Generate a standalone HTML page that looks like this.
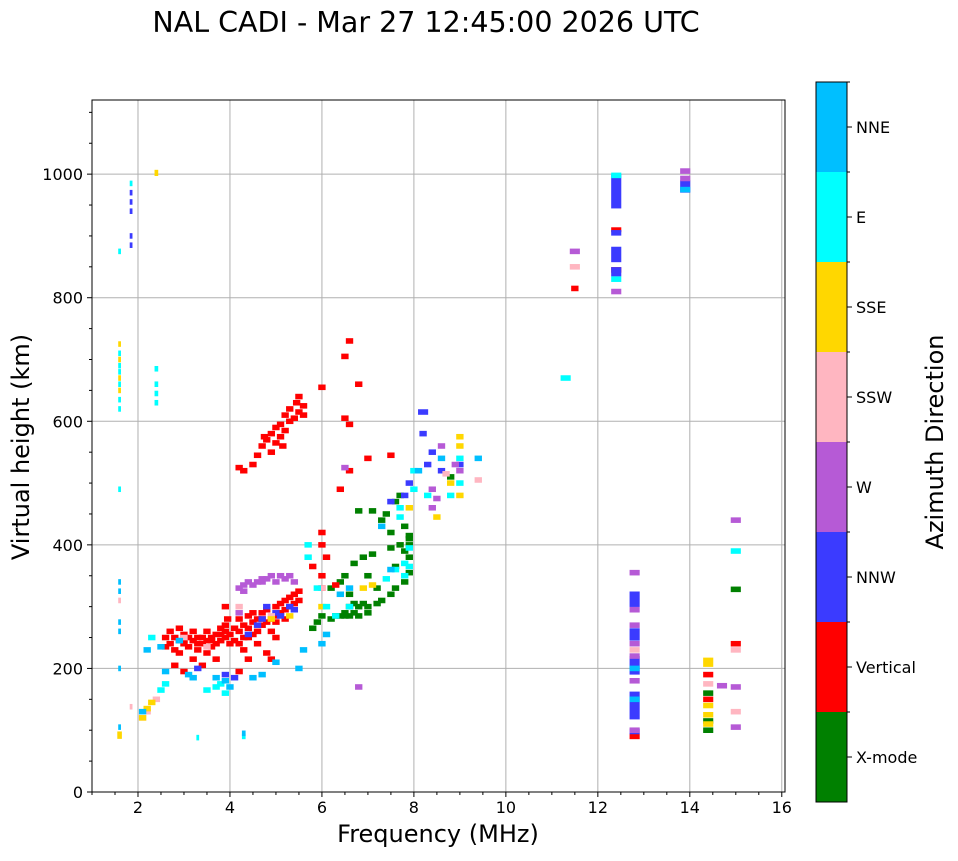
<!DOCTYPE html>
<html><head><meta charset="utf-8"><style>
body{margin:0;background:#fff;font-family:"DejaVu Sans","Liberation Sans",sans-serif}
svg text{font-family:"DejaVu Sans","Liberation Sans",sans-serif;fill:#000}
</style></head><body>
<svg width="958" height="857" xmlns="http://www.w3.org/2000/svg">
<text x="426" y="32" font-size="28.5" text-anchor="middle">NAL CADI - Mar 27 12:45:00 2026 UTC</text>
<g id="plot"></g>
<g id="cbar"></g>
<text x="0" y="0" font-size="24" text-anchor="middle" transform="translate(29,447) rotate(-90)">Virtual height (km)</text>
<text x="438" y="842" font-size="24" text-anchor="middle">Frequency (MHz)</text>
<text x="0" y="0" font-size="24" text-anchor="middle" transform="translate(943,442) rotate(-90)">Azimuth Direction</text>
</svg>
<script>
const xTicks=[2,4,6,8,10,12,14,16];
const yTicks=[0,200,400,600,800,1000];
const dirNames=["X-mode","Vertical","NNW","W","SSW","SSE","E","NNE"];
const dirColors=["#008000","#ff0000","#3b3bff","#b65ad6","#ffb6c1","#ffd700","#00ffff","#00bfff"];
const xmode=[[5.8,265],[5.9,275],[6.0,285],[6.2,280],[6.3,285],[6.4,285],[6.5,290],[6.6,300],[6.7,305],[6.8,300],[6.9,305],[7.0,300],[7.2,305],[7.3,310],[7.5,320],[7.6,330],[7.8,340],[7.9,355],[7.9,380],[7.9,400],[7.9,415],[7.7,400],[7.8,430],[7.5,420],[7.3,440],[7.4,450],[7.6,470],[7.7,480],[7.5,395],[7.1,385],[6.9,380],[6.7,370],[6.5,350],[6.2,330],[6.4,340],[6.6,320],[7.0,350],[7.2,330],[6.8,455],[7.1,455],[8.8,510],[6.5,285],[6.6,285],[6.7,290],[6.8,285],[7.0,290],[7.6,365],[7.8,390],[7.9,410],[14.4,100,0.22],[14.4,115,0.22],[14.4,160,0.22],[15,328,0.22]];
const vertical=[[2.6,250],[2.7,240],[2.7,260],[2.8,230],[2.8,250],[2.9,245],[2.9,265],[3.0,240],[3.0,255],[3.1,235],[3.1,250],[3.2,245],[3.2,260],[3.3,240],[3.3,230],[3.4,250],[3.4,240],[3.5,245],[3.5,260],[3.6,235],[3.6,250],[3.7,240],[3.7,255],[3.8,245],[3.8,265],[3.9,250],[3.9,270],[3.95,280],[3.9,260],[4.0,240],[4.0,255],[2.6,235],[2.9,225],[3.2,215],[3.5,225],[3.0,195],[2.8,205],[3.4,205],[3.7,215],[3.9,300],[4.1,245],[4.2,260],[4.2,280],[4.3,250],[4.3,270],[4.4,265],[4.4,285],[4.5,255],[4.5,275],[4.6,280],[4.6,260],[4.7,270],[4.7,290],[4.8,275],[4.8,295],[4.9,280],[4.9,260],[5.0,285],[5.0,300],[5.1,290],[5.1,305],[5.2,295],[5.2,310],[5.3,300],[5.3,315],[5.4,305],[5.4,320],[5.5,310],[5.5,325],[4.3,230],[4.6,240],[4.8,225],[5.0,250],[4.2,240],[4.4,215],[4.2,195],[4.9,215],[5.8,365],[6.0,420],[6.0,400],[6.1,380],[6.0,350],[6.0,330],[6.3,335],[4.2,525],[4.3,520],[4.5,530],[4.6,545],[4.7,560],[4.75,575],[4.8,570],[4.9,550],[4.9,580],[5.0,565],[5.0,590],[5.1,575],[5.1,595],[5.2,585],[5.2,610],[5.3,600],[5.3,620],[5.4,605],[5.45,630],[5.5,615],[5.6,625],[5.6,610],[5.5,640],[5.15,560],[6.0,655],[6.5,705],[6.6,730],[6.8,660],[6.5,605],[6.6,595],[6.6,520],[6.4,490],[7.0,540],[7.5,545],[3.0,245],[3.3,250],[3.6,245],[3.8,255],[4.1,265],[4.5,290],[4.7,280],[5.0,275],[5.2,280],[4.4,250],[11.5,815],[12.4,910,0.22,8],[12.4,845,0.22],[12.8,90,0.22],[15.0,240,0.22],[14.4,190,0.22],[14.4,150,0.22]];
const nnw=[[1.85,900,0.06],[1.85,940,0.06],[1.85,955,0.06],[1.85,970,0.06],[1.85,885,0.06],[3.3,200],[3.9,190],[4.1,185],[4.4,255],[4.6,270],[4.7,280],[5.0,290],[5.1,285],[5.3,300],[5.4,295],[4.8,300],[7.5,470],[7.8,480],[7.9,500],[8.2,615,0.22],[8.2,580],[8.3,530],[8.6,520],[8.4,550],[9.0,530],[12.4,972,0.22,55],[12.4,870,0.22,25],[12.4,842,0.22,15],[12.4,905,0.22],[12.8,312,0.22,25],[12.8,255,0.22,20],[12.8,205,0.22,30],[12.8,140,0.22,45],[12.8,98,0.22],[13.9,980,0.22,20]];
const west=[[4.2,330],[4.3,335],[4.4,340],[4.5,335],[4.6,340],[4.7,345],[4.8,345],[4.9,350],[5.0,340],[5.1,350],[5.2,345],[5.3,350],[5.4,340],[4.3,325],[4.7,340],[6.8,170],[6.5,525],[8.4,460],[8.4,490],[8.5,475],[8.6,560],[8.9,530],[9.0,520],[12.8,355,0.22],[12.8,295,0.22],[12.8,270,0.22],[12.8,240,0.22],[12.8,220,0.22],[12.8,180,0.22],[12.8,100,0.22],[12.4,810,0.22],[11.5,875,0.22],[13.9,1005,0.22],[13.9,993,0.22],[15,440,0.22],[15,170,0.22],[15,105,0.22],[14.7,172,0.22],[4.2,290]];
const ssw=[[1.6,310,0.06],[1.85,138,0.06],[2.1,120],[2.2,130],[2.4,150],[3.0,250],[3.5,235],[4.2,300],[4.9,285],[6.0,330],[11.5,850,0.22],[15,230,0.22],[15,130,0.22],[14.4,175,0.22],[9.4,505],[8.7,515],[12.8,230,0.22]];
const sse=[[1.6,92,0.1,12],[1.6,650,0.06],[1.6,670,0.06],[1.6,700,0.06],[1.6,725,0.06],[2.4,1002,0.08,10],[2.1,120],[2.2,135],[2.3,145],[4.9,280],[5.3,285],[6.9,330],[7.1,335],[8.8,500],[9.0,575],[9.0,560],[9.0,480],[8.5,445],[14.4,210,0.22,15],[14.4,140,0.22],[14.4,125,0.22],[14.4,110,0.22],[7.9,460],[6.0,300]];
const east=[[1.6,620,0.06],[1.6,635,0.06],[1.6,660,0.06],[1.6,680,0.06],[1.6,690,0.06],[1.6,710,0.06],[1.6,875,0.06],[1.6,490,0.06],[1.85,985,0.06],[2.4,630,0.08],[2.4,645,0.08],[2.4,660,0.08],[2.4,685,0.08],[2.3,250],[2.5,165],[2.6,175],[3.5,165],[3.7,170],[3.9,160],[3.8,175],[5.7,400],[5.7,380],[5.9,330],[6.1,300],[6.3,285],[7.4,345],[7.6,360],[7.8,370],[7.9,395],[7.7,445],[7.7,460],[8.0,490],[8.0,520],[8.3,480],[8.8,480],[9.0,500],[9.0,540],[11.3,670,0.22],[15,390,0.22],[12.4,830,0.22],[12.4,998,0.22],[3.3,88,0.06],[4.3,90,0.08],[6.6,300],[7.9,365],[7.8,350]];
const nne=[[1.6,340,0.06],[1.6,325,0.06],[1.6,275,0.06],[1.6,260,0.06],[1.6,200,0.06],[1.6,105,0.06],[2.2,230],[2.5,235],[2.9,245],[3.2,185],[3.1,190],[3.9,180],[4.0,170],[4.5,185],[4.7,190],[5.0,210],[5.5,200],[5.6,230],[6.1,255],[6.0,240],[6.4,320],[6.6,330],[7.5,360],[7.3,430],[8.1,520],[8.6,540],[9.4,540],[12.8,200,0.22],[12.8,150,0.22],[13.9,975,0.22],[4.3,95,0.08],[3.7,185],[2.6,195],[2.1,130]];
const series=[xmode,vertical,nnw,west,ssw,sse,east,nne];

const NS="http://www.w3.org/2000/svg";
const L=92,R=785,T=100,B=792,xmin=1,xmax=16.07,ymin=0,ymax=1120;
const X=v=>L+(v-xmin)/(xmax-xmin)*(R-L);
const Y=v=>B-(v-ymin)/(ymax-ymin)*(B-T);
function mk(tag,attrs,parent){const e=document.createElementNS(NS,tag);for(const k in attrs)e.setAttribute(k,attrs[k]);parent.appendChild(e);return e;}
const plot=document.getElementById('plot');
xTicks.forEach(t=>{if(t<xmax){const g=mk('line',{x1:X(t),x2:X(t),y1:T,y2:B,stroke:'#b0b0b0','stroke-width':1},plot);}});
yTicks.forEach(t=>{const g=mk('line',{x1:L,x2:R,y1:Y(t),y2:Y(t),stroke:'#b0b0b0','stroke-width':1},plot);});
series.forEach((s,ci)=>{s.forEach(p=>{const w=p[2]||0.16;const h=p[3]||9;
const r=mk('rect',{x:X(p[0]-w/2),y:Y(p[1]+h/2),width:X(p[0]+w/2)-X(p[0]-w/2),height:Y(p[1]-h/2)-Y(p[1]+h/2),fill:dirColors[ci]},plot);

});});
const fr=mk('rect',{x:L,y:T,width:R-L,height:B-T,fill:'none',stroke:'#000','stroke-width':1},plot);


xTicks.forEach(t=>{const x=X(t);mk('line',{x1:x,x2:x,y1:B,y2:B+5,stroke:'#000'},plot);
const tx=mk('text',{x:x,y:B+21,'font-size':16,'text-anchor':'middle'},plot);tx.textContent=t;

});
for(let m=1;m<16;m+=0.5){if(m%2!==0)mk('line',{x1:X(m),x2:X(m),y1:B,y2:B+3,stroke:'#000'},plot);}
yTicks.forEach(t=>{const y=Y(t);mk('line',{x1:L-5,x2:L,y1:y,y2:y,stroke:'#000'},plot);
const tx=mk('text',{x:L-9,y:y+6,'font-size':16,'text-anchor':'end'},plot);tx.textContent=t;

});
for(let m=0;m<=1100;m+=50){if(m%200!==0)mk('line',{x1:L-3,x2:L,y1:Y(m),y2:Y(m),stroke:'#000'},plot);}
const cb=document.getElementById('cbar');const cT=82,cB=802,cL=816,cW=31;const seg=(cB-cT)/dirNames.length;
dirNames.forEach((n,i)=>{const y0=cB-(i+1)*seg;
const r=mk('rect',{x:cL,y:y0,width:cW,height:seg,fill:dirColors[i]},cb);


mk('line',{x1:cL+cW,x2:cL+cW+5,y1:y0+seg/2,y2:y0+seg/2,stroke:'#000'},cb);
mk('line',{x1:cL+cW,x2:cL+cW+3,y1:y0,y2:y0,stroke:'#000'},cb);
const t=mk('text',{x:cL+cW+9,y:y0+seg/2+6,'font-size':16},cb);t.textContent=n;

});
mk('rect',{x:cL,y:cT,width:cW,height:cB-cT,fill:'none',stroke:'#000'},cb);
</script>
</body></html>
